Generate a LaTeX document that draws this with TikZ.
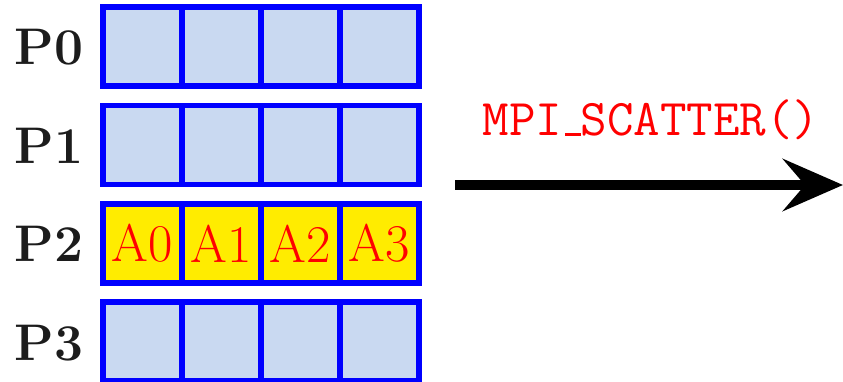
\documentclass[tikz,border=0pt]{standalone}
\usetikzlibrary{arrows.meta,calc}
\definecolor{cellblue}{RGB}{201,217,241}
\definecolor{cellyellow}{RGB}{255,236,0}
\definecolor{edgeblue}{RGB}{0,0,255}
\definecolor{labelblack}{RGB}{28,28,28}
% short underscore sitting on the baseline
\newcommand{\lowbar}{\kern.06em\rule{.3em}{.05em}}
\begin{document}
\begin{tikzpicture}[x=1pt,y=-1pt,
  cell/.style={draw=edgeblue, line width=5.6pt, fill=cellblue,
    minimum size=79pt, inner sep=0pt, outer sep=0pt},
  datacell/.style={cell, fill=cellyellow, text=red,
    font=\fontsize{53}{60}\selectfont},
  proclabel/.style={font=\fontsize{51.5}{60}\selectfont\bfseries,
    text=labelblack, inner sep=0pt, anchor=base east},
  calllabel/.style={font=\fontsize{51.5}{58}\selectfont\ttfamily,
    text=red, inner sep=0pt, anchor=base},
  bigarrow/.style={line width=10pt,
    -{Stealth[length=60pt,width=52pt,inset=22pt]}}]
  \useasboundingbox (0,0) rectangle (843,382);

  % four processes, four buffer cells each
  \foreach \r/\y in {0/46.5, 1/144.9, 2/243.3, 3/341.7} {
    \foreach \c in {0,...,3} {
      \ifnum\r=2
        \node[datacell] (c\r\c) at ({142.5+79*\c},\y) {A\c};
      \else
        \node[cell] (c\r\c) at ({142.5+79*\c},\y) {};
      \fi
    }
    \node[proclabel] (p\r) at ($(c\r0.west)+(-19.3,18.5)$) {P\r};
  }

  % scatter operation
  \coordinate (from) at (455,185);
  \coordinate (to) at (843,185);
  \draw[bigarrow] (from) -- (to);
  \node[calllabel] (call) at ($($(from)!0.5!(to)$)+(2,-49)$) {MPI\lowbar SCATTER()};
\end{tikzpicture}
\end{document}
